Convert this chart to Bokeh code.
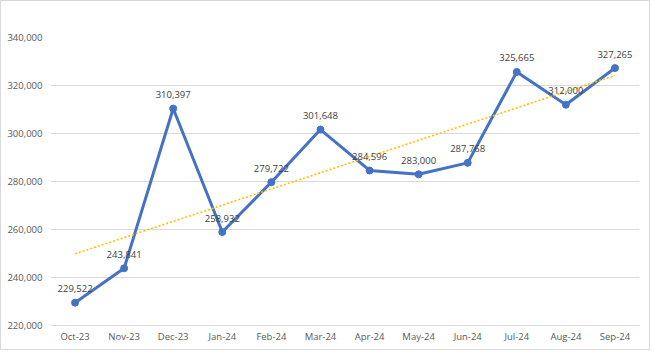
import numpy as np
from bokeh.plotting import figure
from bokeh.models import ColumnDataSource, FactorRange, FixedTicker, NumeralTickFormatter, Range1d
from bokeh.core.properties import value
from bokeh.embed import file_html
from bokeh.resources import INLINE

months = ["Oct-23", "Nov-23", "Dec-23", "Jan-24", "Feb-24", "Mar-24",
          "Apr-24", "May-24", "Jun-24", "Jul-24", "Aug-24", "Sep-24"]
counts = [229522, 243841, 310397, 258932, 279722, 301648,
          284596, 283000, 287768, 325665, 312000, 327265]
y_ticks = [220000, 240000, 260000, 280000, 300000, 320000, 340000]

# Linear trendline (least squares fit of the series, as Excel draws it)
idx = np.arange(len(counts))
slope, intercept = np.polyfit(idx, counts, 1)
trend = [float(intercept + slope * i) for i in idx]

labels = [f"{v:,}" for v in counts]
src = ColumnDataSource(dict(m=months, v=counts, t=trend, lab=labels))

FONT = "Open Sans"
GREY = "#595959"

p = figure(width=650, height=350, output_backend="svg", toolbar_location=None,
           x_range=FactorRange(*months, range_padding=0),
           y_range=Range1d(220000, 340000),
           min_border_left=49, min_border_right=12, min_border_top=36, min_border_bottom=26)
p.styles = {"border": "1px solid #d9d9d9"}
p.outline_line_color = None
p.background_fill_color = "white"
p.border_fill_color = "white"

p.xgrid.grid_line_color = None
p.ygrid.grid_line_color = "#d9d9d9"
p.ygrid.grid_line_width = 1

p.yaxis.ticker = FixedTicker(ticks=y_ticks)
p.yaxis.formatter = NumeralTickFormatter(format="0,0")
p.yaxis.axis_line_color = None
p.yaxis.major_tick_line_color = None
p.yaxis.minor_tick_line_color = None
p.yaxis.major_tick_out = 0
p.yaxis.minor_tick_out = 0
p.yaxis.major_label_standoff = 8
p.xaxis.axis_line_color = "#d9d9d9"
p.xaxis.major_tick_line_color = None
p.xaxis.minor_tick_line_color = None
p.xaxis.major_tick_out = 0
p.xaxis.minor_tick_out = 0
p.xaxis.major_label_standoff = 4
for ax in (p.xaxis, p.yaxis):
    ax.major_label_text_font = FONT
    ax.major_label_text_font_size = "9.5px"
    ax.major_label_text_color = GREY

p.line("m", "v", source=src, line_color="#4472C4", line_width=3, line_join="round")
p.scatter("m", "v", source=src, size=7, fill_color="#4472C4", line_color="#4472C4")
p.line("m", "t", source=src, line_color="#FFC000", line_width=1.6, line_dash="2 2")
p.text("m", "v", text="lab", source=src, text_font=value(FONT), text_font_size="9.5px",
       text_color="#404040", text_align="center", text_baseline="middle", y_offset=-14)

open("out.html", "w").write(file_html(p, INLINE))
